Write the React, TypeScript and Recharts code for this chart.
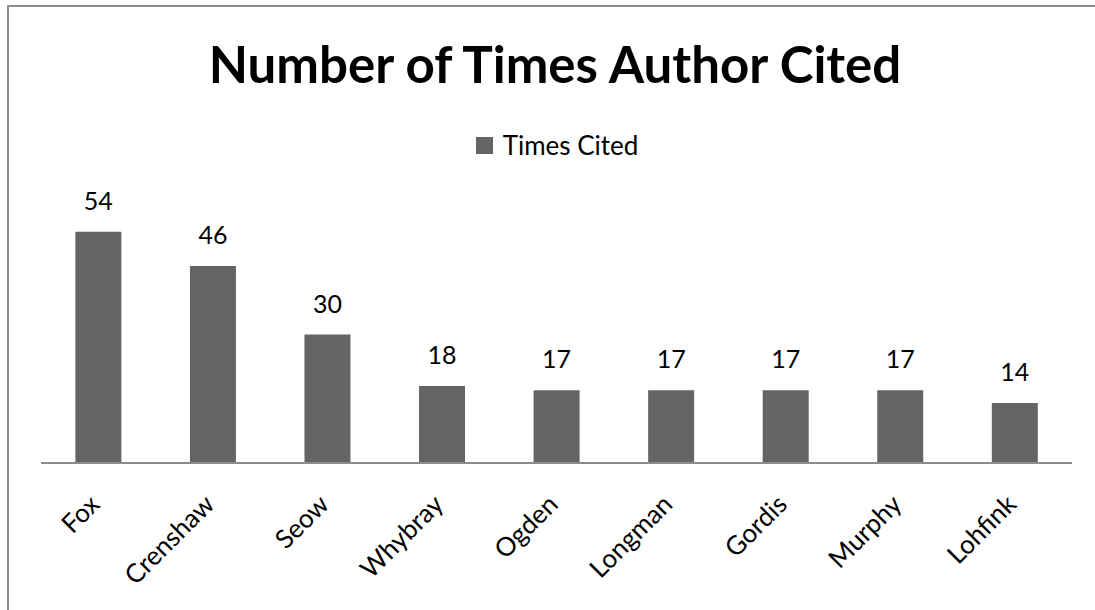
import React from 'react';
import { BarChart, Bar, XAxis, YAxis, LabelList, Legend } from 'recharts';

const authors = ['Fox', 'Crenshaw', 'Seow', 'Whybray', 'Ogden', 'Longman', 'Gordis', 'Murphy', 'Lohfink'];
const timesCited = [54, 46, 30, 18, 17, 17, 17, 17, 14];

const data = authors.map((name, i) => ({ name, cited: timesCited[i] }));

const FONT = 'Lato, "Open Sans", sans-serif';
const BAR_COLOR = '#646464';

const AuthorTick = (props: any) => {
  const { x, y, payload } = props;
  const tx = x + 3;
  const ty = y + 35;
  return (
    <text
      x={tx}
      y={ty}
      transform={`rotate(-45, ${tx}, ${ty})`}
      textAnchor="end"
      fontSize={26}
      fontFamily={FONT}
      fill="#000"
    >
      {payload.value}
    </text>
  );
};

const LegendBox = () => (
  <div style={{ display: 'flex', justifyContent: 'center', alignItems: 'center', fontFamily: FONT, fontSize: 26, color: '#000' }}>
    <span style={{ width: 17, height: 17, background: BAR_COLOR, display: 'inline-block', marginRight: 10 }} />
    <span>Times Cited</span>
  </div>
);

export default function App() {
  return (
    <div style={{ position: 'absolute', left: 0, top: 0, width: 1095, height: 610, background: '#fff', overflow: 'hidden' }}>
      <div style={{ position: 'absolute', left: 7, top: 5, right: 0, height: 2, background: '#8c8c8c' }} />
      <div style={{ position: 'absolute', left: 7, top: 5, width: 2, bottom: 0, background: '#8c8c8c' }} />
      <div
        style={{
          position: 'absolute',
          left: 0,
          width: 1110,
          top: 36,
          textAlign: 'center',
          fontFamily: FONT,
          fontWeight: 700,
          fontSize: 51,
          lineHeight: '56px',
          color: '#000',
        }}
      >
        Number of Times Author Cited
      </div>
      <BarChart
        width={1095}
        height={610}
        data={data}
        margin={{ top: 174, right: 23, bottom: 0, left: 41 }}
        barCategoryGap="30%"
        style={{ position: 'absolute', left: 0, top: 0 }}
      >
        <XAxis
          dataKey="name"
          interval={0}
          tickLine={false}
          axisLine={{ stroke: '#8c8c8c', strokeWidth: 2 }}
          tick={<AuthorTick />}
          height={147}
        />
        <YAxis hide domain={[0, 60]} />
        <Legend
          verticalAlign="top"
          content={<LegendBox />}
          wrapperStyle={{ position: 'absolute', top: 129, left: 0, width: 1114 }}
        />
        <Bar dataKey="cited" name="Times Cited" fill={BAR_COLOR} isAnimationActive={false}>
          <LabelList dataKey="cited" position="top" offset={22} fontSize={25} fontFamily={FONT} fill="#000" />
        </Bar>
      </BarChart>
    </div>
  );
}
